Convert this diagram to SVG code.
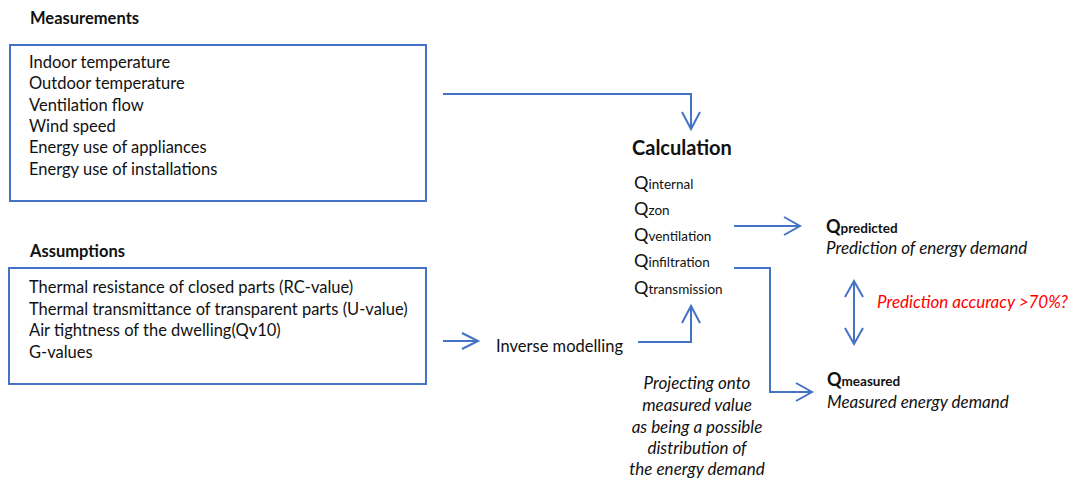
<svg xmlns="http://www.w3.org/2000/svg" width="1074" height="480" viewBox="0 0 1074 480">
<defs>
<style>
text{font-family:Lato,"Open Sans","Liberation Sans",sans-serif;fill:#111;font-size:16.5px}
.b{font-weight:bold}
.t{font-size:16.5px;font-weight:bold}
.i{font-style:italic;font-size:17px}
.red{fill:#ff0000}
.box{fill:#fff;stroke:#4472C4;stroke-width:2}
.ln{fill:none;stroke:#4472C4;stroke-width:2}
.q{font-size:18px}
.s{font-size:13.5px}
.qb{font-size:18px;font-weight:bold}
.sb{font-size:13.5px;font-weight:bold}
</style>
</defs>
<rect width="1074" height="480" fill="#fff"/>
<g id="measurements">
<text x="30" y="24" class="t">Measurements</text>
<rect x="10" y="45" width="416" height="156" class="box"/>
<text x="29" y="68">Indoor temperature</text>
<text x="29" y="89">Outdoor temperature</text>
<text x="29" y="111">Ventilation flow</text>
<text x="29" y="132">Wind speed</text>
<text x="29" y="153">Energy use of appliances</text>
<text x="29" y="175">Energy use of installations</text>
</g>
<g id="assumptions">
<text x="30" y="257" class="t">Assumptions</text>
<rect x="9" y="268" width="417" height="116" class="box"/>
<text x="29" y="293">Thermal resistance of closed parts (RC-value)</text>
<text x="29" y="315">Thermal transmittance of transparent parts (U-value)</text>
<text x="29" y="336">Air tightness of the dwelling(Qv10)</text>
<text x="29" y="358">G-values</text>
</g>
<g id="inverse">
<text x="496" y="352">Inverse modelling</text>
</g>
<g id="calculation">
<text x="632" y="155" class="b" style="font-size:20px">Calculation</text>
<text x="634" y="189"><tspan class="q">Q</tspan><tspan class="s">internal</tspan></text>
<text x="634" y="215"><tspan class="q">Q</tspan><tspan class="s">zon</tspan></text>
<text x="634" y="241"><tspan class="q">Q</tspan><tspan class="s">ventilation</tspan></text>
<text x="634" y="267"><tspan class="q">Q</tspan><tspan class="s">infiltration</tspan></text>
<text x="634" y="294"><tspan class="q">Q</tspan><tspan class="s">transmission</tspan></text>
</g>
<g id="predicted">
<text x="826" y="233"><tspan class="qb">Q</tspan><tspan class="sb">predicted</tspan></text>
<text x="826" y="254" class="i">Prediction of energy demand</text>
</g>
<g id="measured">
<text x="827" y="386"><tspan class="qb">Q</tspan><tspan class="sb">measured</tspan></text>
<text x="827" y="408" class="i">Measured energy demand</text>
</g>
<g id="accuracy">
<text x="877" y="308" class="i red">Prediction accuracy &gt;70%?</text>
</g>
<g id="projecting">
<text x="697" y="389" class="i" text-anchor="middle">Projecting onto</text>
<text x="697" y="411" class="i" text-anchor="middle">measured value</text>
<text x="697" y="433" class="i" text-anchor="middle">as being a possible</text>
<text x="697" y="454" class="i" text-anchor="middle">distribution of</text>
<text x="697" y="475" class="i" text-anchor="middle">the energy demand</text>
</g>
<g id="connectors">
<path class="ln" d="M443 94 H691 V129 M682 112 L691 129 L700 112"/>
<path class="ln" d="M443 341 H478 M462 333 L478 341 L462 349"/>
<path class="ln" d="M638 342 H691 V306 M682 323 L691 306 L700 323"/>
<path class="ln" d="M734 226 H800 M784 217 L800 226 L784 235"/>
<path class="ln" d="M734 268 H770 V392 H812 M796 383 L812 392 L796 401"/>
<path class="ln" d="M854 281 V344 M845 297 L854 281 L863 297 M845 328 L854 344 L863 328"/>
</g>
</svg>
